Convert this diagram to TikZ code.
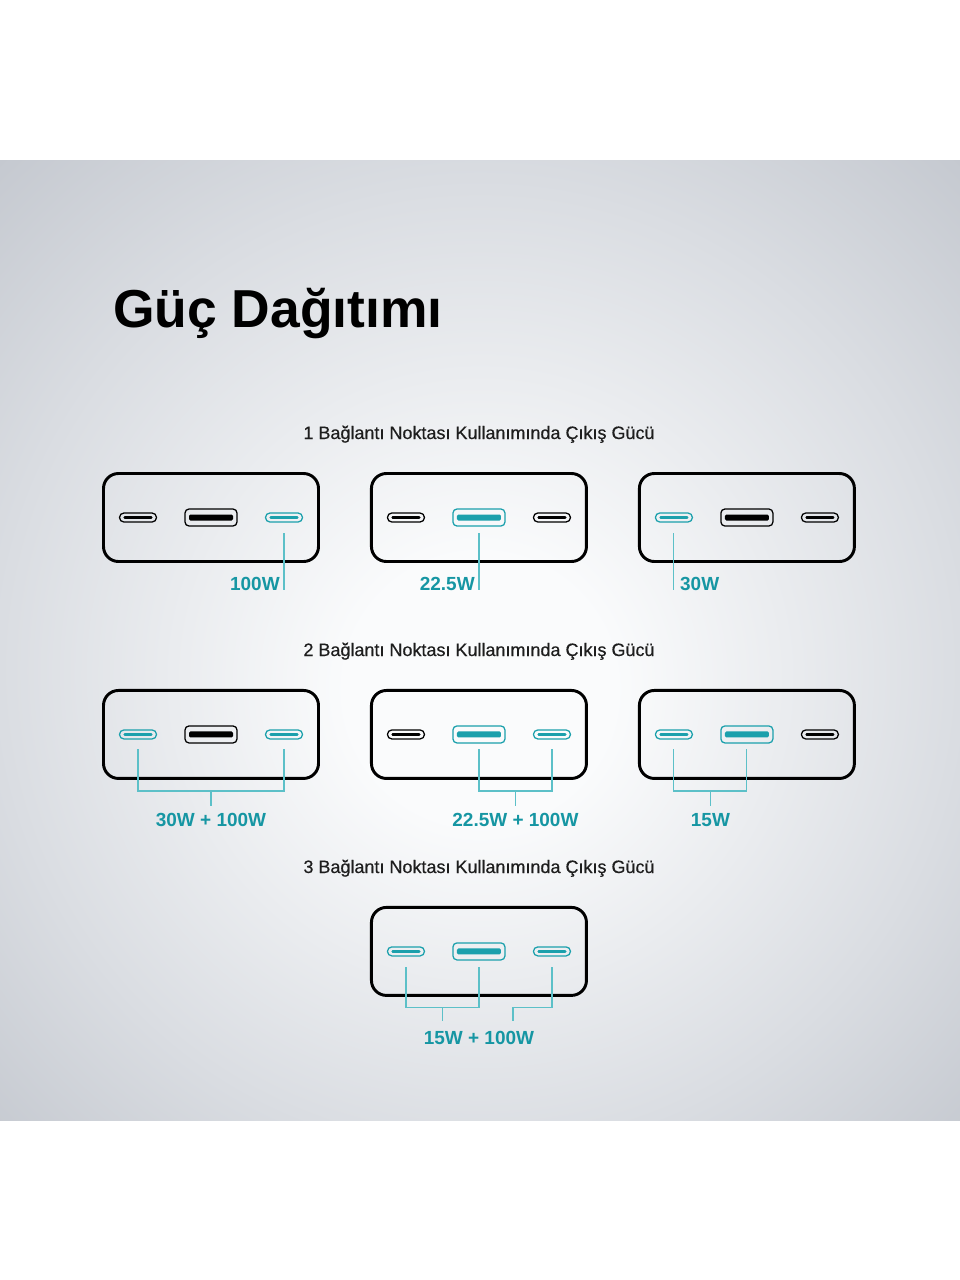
\documentclass[tikz,border=0pt]{standalone}
\usepackage{fontspec}
\setmainfont{Liberation Sans}
\newfontfamily\medfont{Liberation Sans}[FakeBold=0.4]
\usetikzlibrary{positioning, calc}
\definecolor{tealport}{HTML}{1BA0AC}
\definecolor{tealtext}{HTML}{1696A3}
\definecolor{tealline}{HTML}{5CC0C8}
\definecolor{bgcenter}{HTML}{FAFBFC}
\definecolor{bgmid}{HTML}{DADDE2}
\definecolor{bgedge}{HTML}{C5C9D0}
\definecolor{inkgray}{HTML}{1E1E1E}
\pgfdeclareradialshading{bgglow}{\pgfpoint{0bp}{-3bp}}{color(0bp)=(bgcenter); color(7bp)=(bgcenter); color(25bp)=(bgmid); color(36bp)=(bgedge); color(50bp)=(bgedge)}

\begin{document}
\begin{tikzpicture}[
    bank/.style={rectangle, rounded corners=0.375cm, draw=black, line width=2.1pt, minimum width=5.375cm, minimum height=2.2cm, inner sep=0pt},
    cport/.style={rectangle, rounded corners=0.11cm, draw=#1, line width=0.9pt, minimum width=0.925cm, minimum height=0.225cm, inner sep=0pt,
      path picture={\draw[#1, line width=1.8pt, line cap=round] ([xshift=0.13cm]path picture bounding box.west) -- ([xshift=-0.13cm]path picture bounding box.east);}},
    aport/.style={rectangle, rounded corners=0.1cm, draw=#1, line width=0.9pt, minimum width=1.3cm, minimum height=0.425cm, inner sep=0pt,
      path picture={\fill[#1, rounded corners=1pt] ([xshift=0.1cm, yshift=-0.075cm]path picture bounding box.west) rectangle ([xshift=-0.1cm, yshift=0.075cm]path picture bounding box.east);}},
    heading/.style={font=\medfont\fontsize{12.8}{15}\selectfont, text=inkgray, anchor=base, inner sep=0pt},
    watt/.style={font=\bfseries\fontsize{13.5}{16}\selectfont, text=tealtext, inner sep=0pt},
    conn/.style={draw=tealline, line width=0.8pt},
  ]
  \useasboundingbox (0,0) rectangle (24,-32);
  \fill[white] (0,0) rectangle (24,-32);
  \shade[shading=bgglow] (0,-4) rectangle (24,-28);

  % Title
  \node[font=\bfseries\fontsize{38}{46}\selectfont, anchor=base west, inner sep=0pt] (title) at (2.825,-8.175) {Güç Dağıtımı};

  % Row 1: one port in use
  \node[heading] (h1) at (11.975,-10.975) {1 Bağlantı Noktası Kullanımında Çıkış Gücü};
  \node[bank] (b11) at (5.275,-12.9375) {};
  \node[bank, right=1.25cm of b11] (b12) {};
  \node[bank, right=1.25cm of b12] (b13) {};

  \node[cport=black] (p11a) at ([xshift=-1.825cm]b11.center) {};
  \node[aport=black] (p11b) at (b11.center) {};
  \node[cport=tealport] (p11c) at ([xshift=1.825cm]b11.center) {};
  \node[cport=black] (p12a) at ([xshift=-1.825cm]b12.center) {};
  \node[aport=tealport] (p12b) at (b12.center) {};
  \node[cport=black] (p12c) at ([xshift=1.825cm]b12.center) {};
  \node[cport=tealport] (p13a) at ([xshift=-1.825cm]b13.center) {};
  \node[aport=black] (p13b) at (b13.center) {};
  \node[cport=black] (p13c) at ([xshift=1.825cm]b13.center) {};

  \coordinate (e11) at ([yshift=-1.8125cm]p11c.center);
  \coordinate (e12) at ([yshift=-1.8125cm]p12b.center);
  \coordinate (e13) at ([yshift=-1.8125cm]p13a.center);
  \draw[conn] ([yshift=-0.3875cm]p11c.center) -- (e11);
  \draw[conn] ([yshift=-0.3875cm]p12b.center) -- (e12);
  \draw[conn] ([yshift=-0.3875cm]p13a.center) -- (e13);
  \node[watt, anchor=base east] (w11) at ([xshift=-0.1cm]e11) {100W};
  \node[watt, anchor=base east] (w12) at ([xshift=-0.1cm]e12) {22.5W};
  \node[watt, anchor=base west] (w13) at ([xshift=0.15cm]e13) {30W};

  % Row 2: two ports in use
  \node[heading] (h2) at (11.975,-16.4) {2 Bağlantı Noktası Kullanımında Çıkış Gücü};
  \node[bank, below=3.15cm of b11] (b21) {};
  \node[bank, right=1.25cm of b21] (b22) {};
  \node[bank, right=1.25cm of b22] (b23) {};

  \node[cport=tealport] (p21a) at ([xshift=-1.825cm]b21.center) {};
  \node[aport=black] (p21b) at (b21.center) {};
  \node[cport=tealport] (p21c) at ([xshift=1.825cm]b21.center) {};
  \node[cport=black] (p22a) at ([xshift=-1.825cm]b22.center) {};
  \node[aport=tealport] (p22b) at (b22.center) {};
  \node[cport=tealport] (p22c) at ([xshift=1.825cm]b22.center) {};
  \node[cport=tealport] (p23a) at ([xshift=-1.825cm]b23.center) {};
  \node[aport=tealport] (p23b) at (b23.center) {};
  \node[cport=black] (p23c) at ([xshift=1.825cm]b23.center) {};

  \coordinate (m21) at ($(p21a.center)!0.5!(p21c.center)+(0,-1.4125)$);
  \coordinate (m22) at ($(p22b.center)!0.5!(p22c.center)+(0,-1.4125)$);
  \coordinate (m23) at ($(p23a.center)!0.5!(p23b.center)+(0,-1.4125)$);
  \draw[conn] ([yshift=-0.375cm]p21a.center) |- (m21) -| ([yshift=-0.375cm]p21c.center);
  \draw[conn] ([yshift=-0.375cm]p22b.center) |- (m22) -| ([yshift=-0.375cm]p22c.center);
  \draw[conn] ([yshift=-0.375cm]p23a.center) |- (m23) -| ([yshift=-0.375cm]p23b.center);
  \draw[conn] (m21) -- ++(0,-0.375) coordinate (t21);
  \draw[conn] (m22) -- ++(0,-0.375) coordinate (t22);
  \draw[conn] (m23) -- ++(0,-0.375) coordinate (t23);
  \node[watt, anchor=base] (w21) at ([yshift=-0.9cm]m21) {30W + 100W};
  \node[watt, anchor=base] (w22) at ([yshift=-0.9cm]m22) {22.5W + 100W};
  \node[watt, anchor=base] (w23) at ([yshift=-0.9cm]m23) {15W};

  % Row 3: three ports in use
  \node[heading] (h3) at (11.975,-21.825) {3 Bağlantı Noktası Kullanımında Çıkış Gücü};
  \node[bank, below=3.15cm of b22] (b32) {};

  \node[cport=tealport] (p32a) at ([xshift=-1.825cm]b32.center) {};
  \node[aport=tealport] (p32b) at (b32.center) {};
  \node[cport=tealport] (p32c) at ([xshift=1.825cm]b32.center) {};

  \coordinate (m32) at ($(p32a.center)!0.5!(p32b.center)+(0,-1.4)$);
  \coordinate (r32) at ([xshift=-0.975cm, yshift=-1.4cm]p32c.center);
  \draw[conn] ([yshift=-0.4cm]p32a.center) |- (m32) -| ([yshift=-0.4cm]p32b.center);
  \draw[conn] ([yshift=-0.4cm]p32c.center) |- (r32) -- ++(0,-0.35) coordinate (t32b);
  \draw[conn] (m32) -- ++(0,-0.35) coordinate (t32a);
  \node[watt, anchor=base] (w32) at ([yshift=-2.325cm]p32b.center) {15W + 100W};
\end{tikzpicture}
\end{document}
